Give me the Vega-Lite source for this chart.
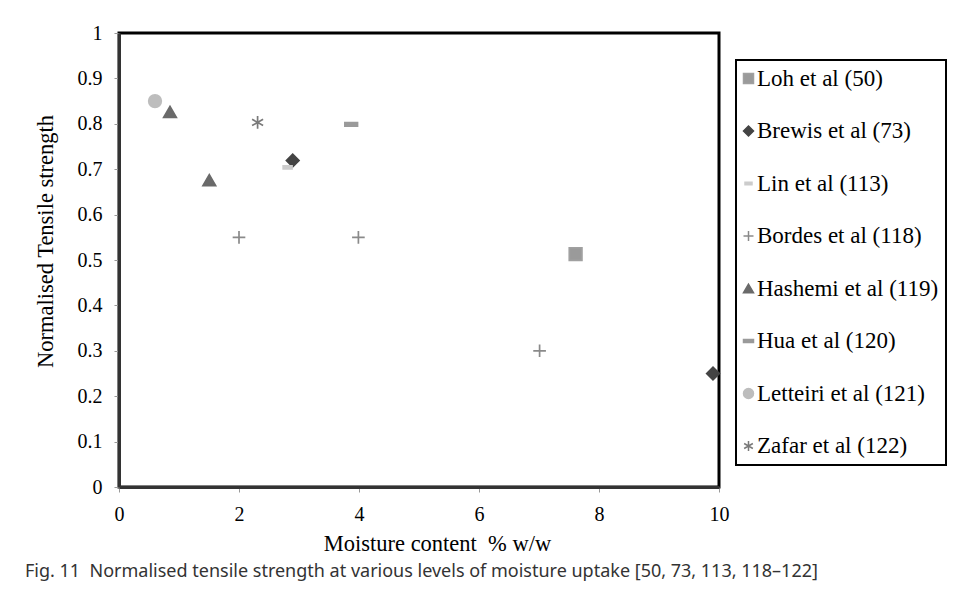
{
  "$schema": "https://vega.github.io/schema/vega-lite/v6.json",
  "width": 600,
  "height": 454,
  "autosize": {"type": "none"},
  "padding": {"left": 119, "top": 33, "right": 237, "bottom": 102},
  "background": "white",
  "title": {
    "text": "Fig. 11\u00a0 Normalised tensile strength at various levels of moisture uptake [50, 73, 113, 118–122]",
    "orient": "bottom",
    "anchor": "start",
    "frame": "group",
    "dx": -94,
    "offset": 8,
    "font": "Noto Sans",
    "fontSize": 18,
    "fontWeight": "normal",
    "color": "#333333"
  },
  "data": {
    "values": [
      {"study": "Loh et al (50)", "moisture": 7.61, "strength": 0.513},
      {"study": "Brewis et al (73)", "moisture": 2.895, "strength": 0.719},
      {"study": "Brewis et al (73)", "moisture": 9.9, "strength": 0.25},
      {"study": "Lin et al (113)", "moisture": 2.81, "strength": 0.704},
      {"study": "Bordes et al (118)", "moisture": 2.0, "strength": 0.55},
      {"study": "Bordes et al (118)", "moisture": 3.99, "strength": 0.55},
      {"study": "Bordes et al (118)", "moisture": 7.01, "strength": 0.3},
      {"study": "Hashemi et al (119)", "moisture": 0.85, "strength": 0.826},
      {"study": "Hashemi et al (119)", "moisture": 1.505, "strength": 0.676},
      {"study": "Hua et al (120)", "moisture": 3.87, "strength": 0.799},
      {"study": "Letteiri et al (121)", "moisture": 0.6, "strength": 0.85},
      {"study": "Zafar et al (122)", "moisture": 2.31, "strength": 0.803}
    ]
  },
  "mark": {"type": "point", "size": 160, "strokeWidth": 1.7, "opacity": 1},
  "encoding": {
    "x": {
      "field": "moisture",
      "type": "quantitative",
      "title": "Moisture content\u00a0 % w/w",
      "scale": {"domain": [0, 10], "nice": false},
      "axis": {"values": [0, 2, 4, 6, 8, 10], "format": "d", "labelFlush": false, "titleX": 318}
    },
    "y": {
      "field": "strength",
      "type": "quantitative",
      "title": "Normalised Tensile strength",
      "scale": {"domain": [0, 1], "nice": false},
      "axis": {"values": [0, 0.1, 0.2, 0.3, 0.4, 0.5, 0.6, 0.7, 0.8, 0.9, 1], "format": "~g", "titleY": 208}
    },
    "shape": {
      "field": "study",
      "type": "nominal",
      "scale": {
        "domain": ["Loh et al (50)", "Brewis et al (73)", "Lin et al (113)", "Bordes et al (118)", "Hashemi et al (119)", "Hua et al (120)", "Letteiri et al (121)", "Zafar et al (122)"],
        "range": ["square", "diamond", "M-0.7,-0.25H0.7V0.25H-0.7Z", "M-1,0H1M0,-1V1", "triangle-up", "M-1,-0.28H1V0.28H-1Z", "circle", "M0,-1V1M-0.87,-0.5L0.87,0.5M-0.87,0.5L0.87,-0.5"]
      },
      "legend": {
        "title": null,
        "orient": "none",
        "legendX": 617,
        "legendY": 27
      }
    },
    "fill": {
      "field": "study",
      "type": "nominal",
      "scale": {
        "domain": ["Loh et al (50)", "Brewis et al (73)", "Lin et al (113)", "Bordes et al (118)", "Hashemi et al (119)", "Hua et al (120)", "Letteiri et al (121)", "Zafar et al (122)"],
        "range": ["#9a9a9a", "#444444", "#cccccc", "transparent", "#6a6a6a", "#9a9a9a", "#bdbdbd", "transparent"]
      }
    },
    "stroke": {
      "field": "study",
      "type": "nominal",
      "scale": {
        "domain": ["Loh et al (50)", "Brewis et al (73)", "Lin et al (113)", "Bordes et al (118)", "Hashemi et al (119)", "Hua et al (120)", "Letteiri et al (121)", "Zafar et al (122)"],
        "range": ["#a0a0a0", "#444444", "#cccccc", "#8a8a8a", "#6a6a6a", "#9a9a9a", "#bdbdbd", "#7a7a7a"]
      }
    }
  },
  "config": {
    "view": {"stroke": "#000000", "strokeWidth": 3},
    "legend": {
      "padding": 7,
      "rowPadding": 28.5,
      "symbolSize": 100,
      "symbolStrokeWidth": 1.5,
      "symbolOffset": -6,
      "labelFont": "Liberation Serif",
      "labelFontSize": 23,
      "labelColor": "#000000",
      "labelOffset": -3,
      "labelLimit": 300,
      "strokeColor": "#000000",
      "strokeWidth": 2
    },
    "axis": {
      "grid": false,
      "domainColor": "#333333",
      "domainWidth": 3,
      "tickColor": "#999999",
      "tickSize": 5,
      "tickWidth": 1,
      "labelFont": "Liberation Serif",
      "labelFontSize": 20,
      "labelColor": "#000000",
      "labelPadding": 12,
      "titleFont": "Liberation Serif",
      "titleFontSize": 22.5,
      "titleFontWeight": "normal",
      "titleColor": "#000000"
    },
    "axisY": {"titlePadding": 20},
    "axisX": {"titlePadding": 8}
  }
}
